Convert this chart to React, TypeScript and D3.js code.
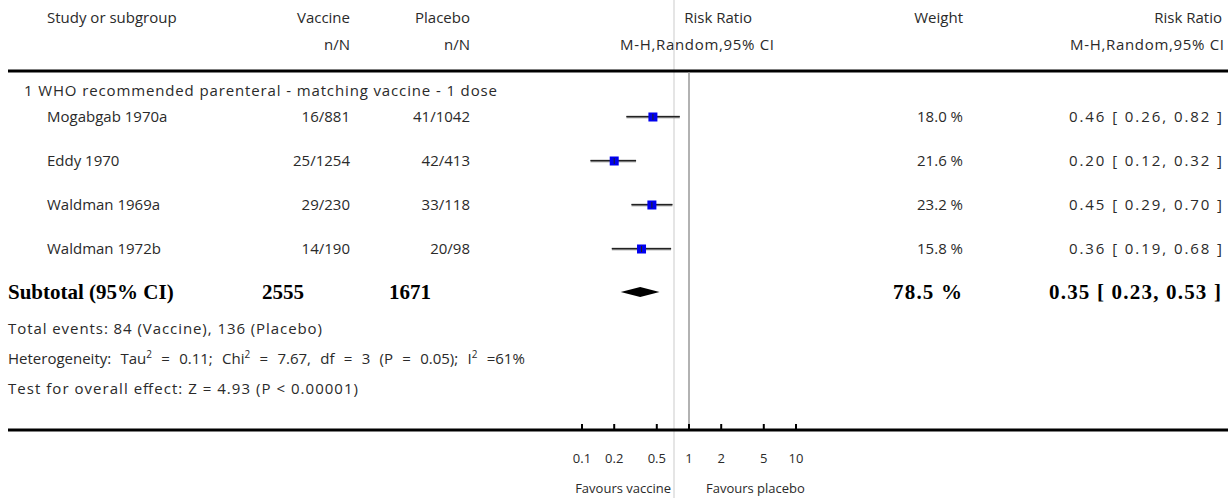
import React from "react";
import * as d3 from "d3";

const studies = ["Mogabgab 1970a", "Eddy 1970", "Waldman 1969a", "Waldman 1972b"];
const vaccineEvents = [16, 25, 29, 14];
const vaccineTotal = [881, 1254, 230, 190];
const placeboEvents = [41, 42, 33, 20];
const placeboTotal = [1042, 413, 118, 98];
const weights = [18.0, 21.6, 23.2, 15.8];
const riskRatio = [0.46, 0.2, 0.45, 0.36];
const ciLow = [0.26, 0.12, 0.29, 0.19];
const ciHigh = [0.82, 0.32, 0.7, 0.68];

const subtotalRR = 0.35;
const subtotalLow = 0.23;
const subtotalHigh = 0.53;
const subtotalWeight = 78.5;
const subtotalVaccine = 2555;
const subtotalPlacebo = 1671;

const axisTicks = [0.1, 0.2, 0.5, 1, 2, 5, 10];

const W = 1228;
const H = 498;
const SANS = "'Open Sans', Lato, sans-serif";
const SERIF = "'Liberation Serif', 'DejaVu Serif', serif";
const FS = 15;
const TXT = "#2a2a2a";

export default function App() {
  const x = d3.scaleLog().domain([0.1, 10]).range([582, 796]);
  const y = d3.scaleLinear().domain([0, 1]).range([117, 161]);
  const subY = 292;
  const axisY = 430;
  const fmt2 = d3.format(".2f");
  const fmt1 = d3.format(".1f");

  const diamond = d3.line<[number, number]>()([
    [x(subtotalLow), subY],
    [x(subtotalRR), subY - 5],
    [x(subtotalHigh), subY],
    [x(subtotalRR), subY + 5],
    [x(subtotalLow), subY],
  ]) as string;

  const sq = 9;

  return (
    <svg
      width={W}
      height={H}
      style={{ position: "absolute", left: 0, top: 0, background: "#fff" }}
      fontFamily={SANS}
      fontSize={FS}
    >
      <rect x={0} y={0} width={W} height={H} fill="#fff" />
      {/* light vertical reference line */}
      <line x1={674} x2={674} y1={0} y2={H} stroke="#dcdcdc" strokeWidth={1.5} />

      {/* header */}
      <g fill={TXT}>
        <text x={47} y={23}>Study or subgroup</text>
        <text x={350} y={23} textAnchor="end">Vaccine</text>
        <text x={350} y={50} textAnchor="end">n/N</text>
        <text x={470} y={23} textAnchor="end">Placebo</text>
        <text x={470} y={50} textAnchor="end">n/N</text>
        <text x={752} y={23} textAnchor="end">Risk Ratio</text>
        <text x={774} y={50} textAnchor="end" textLength={154}>M-H,Random,95% CI</text>
        <text x={963} y={23} textAnchor="end">Weight</text>
        <text x={1222} y={23} textAnchor="end">Risk Ratio</text>
        <text x={1224} y={50} textAnchor="end" textLength={154}>M-H,Random,95% CI</text>
      </g>
      <line x1={8} x2={W} y1={71} y2={71} stroke="#000" strokeWidth={3} />

      {/* null line */}
      <line x1={x(1)} x2={x(1)} y1={72} y2={axisY} stroke="#999" strokeWidth={1.5} />

      <text x={24} y={96} fill={TXT} textLength={473}>
        1 WHO recommended parenteral - matching vaccine - 1 dose
      </text>

      {studies.map((s, i) => {
        const cy = y(i);
        return (
          <g key={s}>
            <text x={47} y={cy + 5} fill={TXT}>{s}</text>
            <text x={350} y={cy + 5} fill={TXT} textAnchor="end">
              {vaccineEvents[i]}/{vaccineTotal[i]}
            </text>
            <text x={470} y={cy + 5} fill={TXT} textAnchor="end">
              {placeboEvents[i]}/{placeboTotal[i]}
            </text>
            <text x={963} y={cy + 5} fill={TXT} textAnchor="end">
              {fmt1(weights[i])} %
            </text>
            <text x={1222} y={cy + 5} fill={TXT} textAnchor="end" textLength={153}>
              {`${fmt2(riskRatio[i])} [ ${fmt2(ciLow[i])}, ${fmt2(ciHigh[i])} ]`}
            </text>
            <line x1={x(ciLow[i])} x2={x(ciHigh[i])} y1={cy} y2={cy} stroke="#777" strokeWidth={2.5} />
            <line x1={x(ciLow[i])} x2={x(ciHigh[i])} y1={cy - 0.5} y2={cy - 0.5} stroke="#222" strokeWidth={1} />
            <rect x={x(riskRatio[i]) - sq / 2} y={cy - sq / 2} width={sq} height={sq} fill="#0000ee" />
            <line x1={x(riskRatio[i])} x2={x(riskRatio[i])} y1={cy - 3} y2={cy + 3} stroke="#222" strokeWidth={1} />
          </g>
        );
      })}

      {/* subtotal */}
      <g fontFamily={SERIF} fontWeight="bold" fontSize={21} fill="#000">
        <text x={8} y={subY + 7}>Subtotal (95% CI)</text>
        <text x={304} y={subY + 7} textAnchor="end">{subtotalVaccine}</text>
        <text x={431} y={subY + 7} textAnchor="end">{subtotalPlacebo}</text>
        <text x={962} y={subY + 7} textAnchor="end" textLength={69}>{`${fmt1(subtotalWeight)} %`}</text>
        <text x={1221} y={subY + 7} textAnchor="end" textLength={172}>
          {`${fmt2(subtotalRR)} [ ${fmt2(subtotalLow)}, ${fmt2(subtotalHigh)} ]`}
        </text>
      </g>
      <path d={diamond} fill="#000" />

      <g fill={TXT}>
        <text x={8} y={334} textLength={314}>Total events: 84 (Vaccine), 136 (Placebo)</text>
        <text x={8} y={364} wordSpacing={5.4}>
          Heterogeneity: Tau<tspan dy={-6} fontSize={10}>2</tspan>
          <tspan dy={6}> = 0.11; Chi</tspan>
          <tspan dy={-6} fontSize={10}>2</tspan>
          <tspan dy={6}> = 7.67, df = 3 (P = 0.05); I</tspan>
          <tspan dy={-6} fontSize={10}>2</tspan>
          <tspan dy={6}> =61%</tspan>
        </text>
        <text x={8} y={394} textLength={350}>Test for overall effect: Z = 4.93 (P &lt; 0.00001)</text>
      </g>

      {/* axis */}
      <line x1={8} x2={W} y1={axisY} y2={axisY} stroke="#000" strokeWidth={3} />
      {axisTicks.map((t) => (
        <g key={t}>
          <line x1={x(t)} x2={x(t)} y1={axisY - 6} y2={axisY} stroke="#000" strokeWidth={2} />
          <text x={x(t)} y={463} textAnchor="middle" fill={TXT} fontSize={13}>
            {t}
          </text>
        </g>
      ))}
      <text x={671} y={493} textAnchor="end" fill={TXT} fontSize={13}>Favours vaccine</text>
      <text x={706} y={493} fill={TXT} fontSize={13}>Favours placebo</text>
    </svg>
  );
}
